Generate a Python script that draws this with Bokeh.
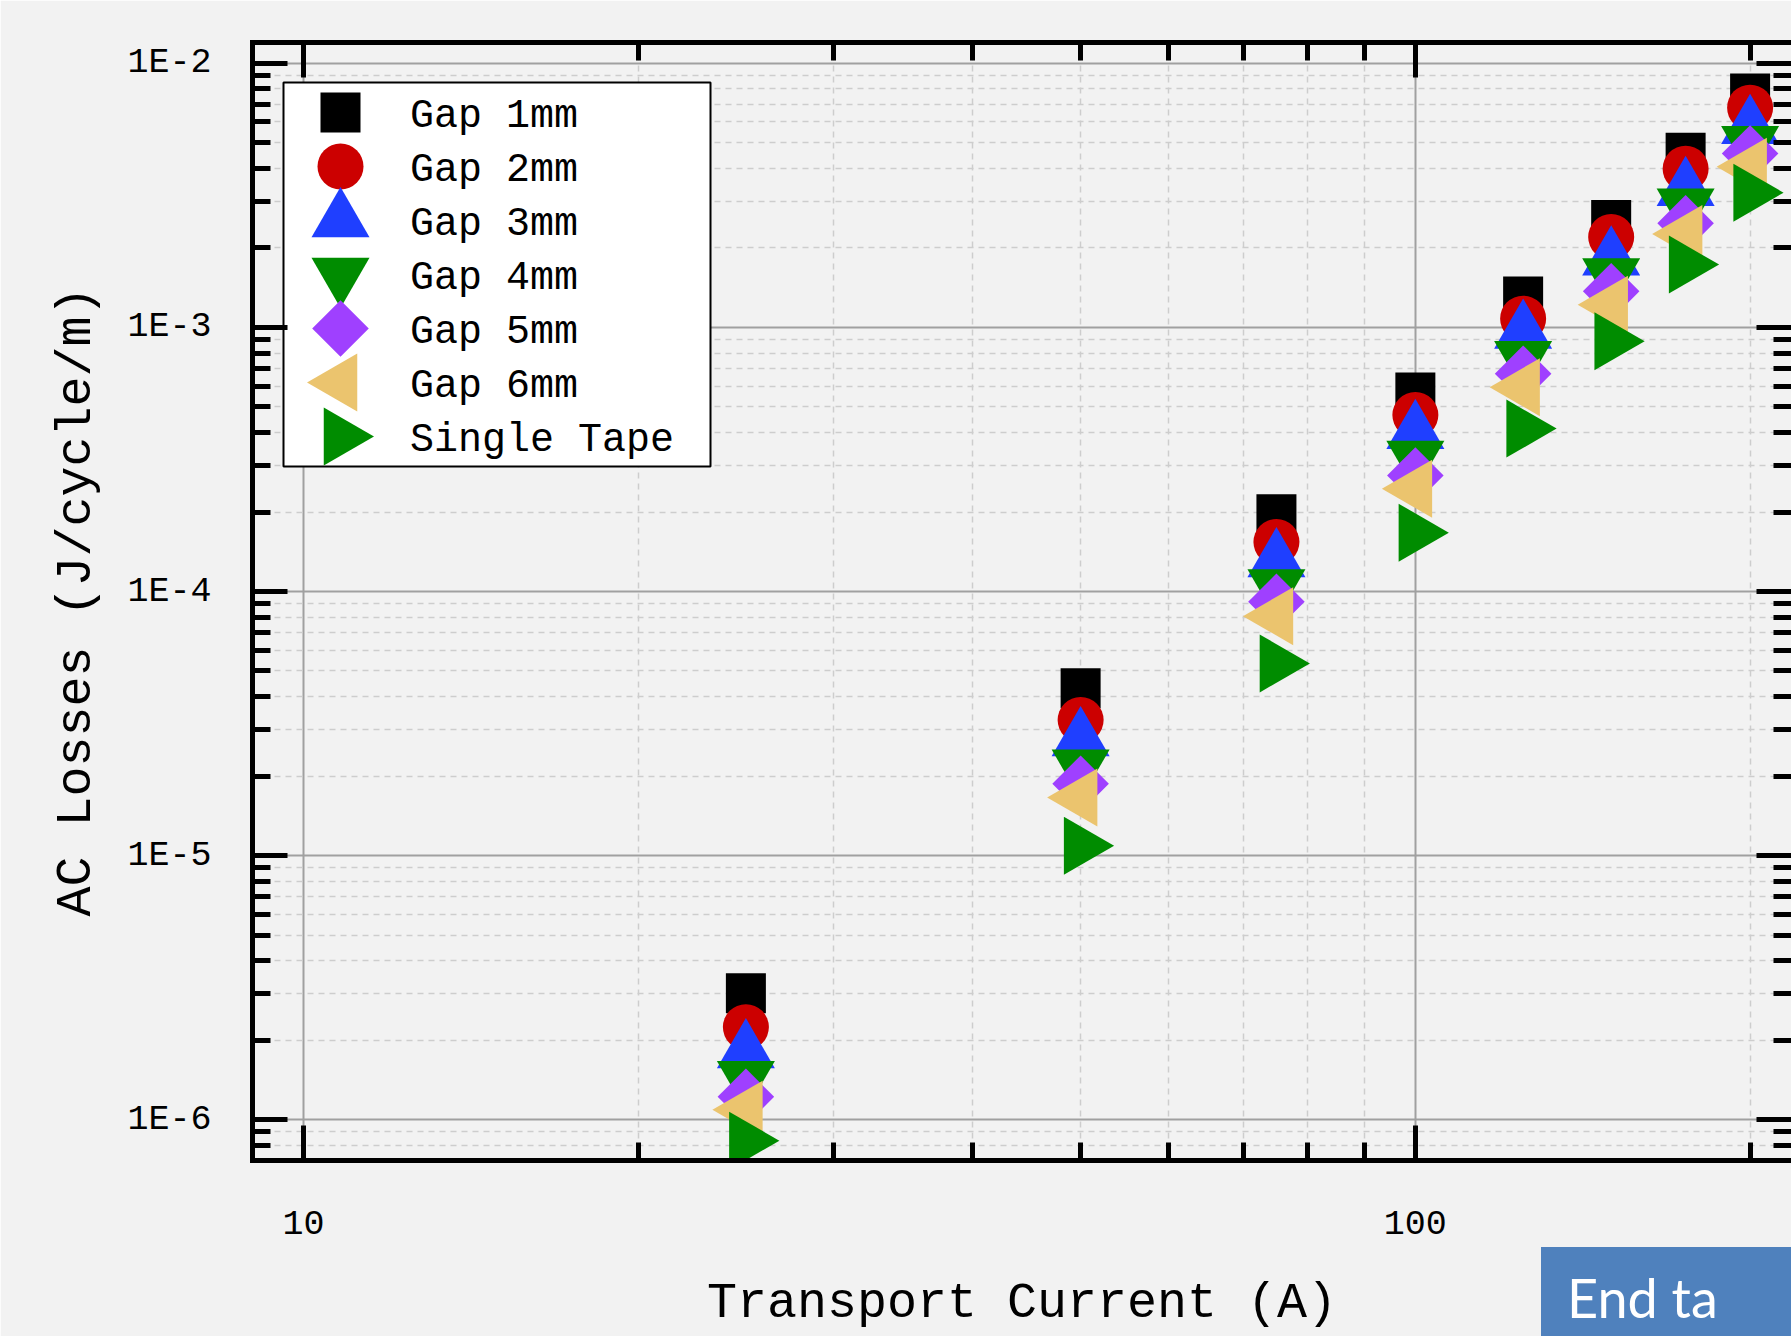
import numpy as np
from bokeh.plotting import figure
from bokeh.layouts import column
from bokeh.models import (ColumnDataSource, LogAxis, FixedTicker, CustomJSTickFormatter,
                          Legend, LegendItem, Div)
from bokeh.embed import file_html
from bokeh.resources import INLINE

# ---------------- data ----------------
current = [25, 50, 75, 100, 125, 150, 175, 200]
gap_1mm = [3.01e-6, 4.30e-5, 1.96e-4, 5.67e-4, 1.31e-3, 2.55e-3, 4.59e-3, 7.70e-3]
gap_2mm = [2.24e-6, 3.26e-5, 1.54e-4, 4.66e-4, 1.08e-3, 2.20e-3, 3.99e-3, 6.80e-3]
gap_3mm = [1.81e-6, 2.75e-5, 1.31e-4, 4.01e-4, 9.61e-4, 1.82e-3, 3.34e-3, 5.73e-3]
gap_4mm = [1.44e-6, 2.18e-5, 1.05e-4, 3.22e-4, 7.68e-4, 1.58e-3, 2.90e-3, 5.01e-3]
gap_5mm = [1.22e-6, 1.87e-5, 9.14e-5, 2.75e-4, 6.68e-4, 1.37e-3, 2.48e-3, 4.56e-3]
gap_6mm = [1.09e-6, 1.66e-5, 8.06e-5, 2.45e-4, 5.94e-4, 1.22e-3, 2.26e-3, 4.06e-3]
single_tape = [8.32e-7, 1.09e-5, 5.34e-5, 1.67e-4, 4.14e-4, 8.87e-4, 1.73e-3, 3.24e-3]

series_names = ["Gap 1mm", "Gap 2mm", "Gap 3mm", "Gap 4mm", "Gap 5mm", "Gap 6mm", "Single Tape"]
series_values = [gap_1mm, gap_2mm, gap_3mm, gap_4mm, gap_5mm, gap_6mm, single_tape]

x_major_ticks = [10, 100]
x_tick_labels = ["10", "100"]
x_minor_ticks = [20, 30, 40, 50, 60, 70, 80, 90, 200]
y_major_ticks = [1e-6, 1e-5, 1e-4, 1e-3, 1e-2]
y_tick_labels = ["1E-6", "1E-5", "1E-4", "1E-3", "1E-2"]
y_minor_ticks = [k * 10.0 ** e for e in range(-7, -1) for k in range(2, 10)
                 if 7.05e-7 < k * 10.0 ** e < 1.2e-2]

callout_text = "End ta"

# ---------------- styles ----------------
markers = ["square", "circle", "triangle", "inverted_triangle", "square", "triangle", "triangle"]
angles = [0, 0, 0, 0, np.pi / 4, np.pi / 2, -np.pi / 2]
sizes = [40, 46, 58, 58, 40, 58, 58]
colors = ["#000000", "#CC0000", "#1F3FFF", "#008C00", "#9F40FF", "#EBC46E", "#008C00"]

BG = "#F2F2F2"
FONT = "Liberation Mono"

W, H = 1791, 1336
ML, MR, MT, MB = 252, 0, 42, 176
FL, FT, FB = ML, MT, H - MB          # frame left / top / bottom in canvas px
FW, FH = W - ML - MR, H - MT - MB
X_RANGE = (9, 217.9)
Y_RANGE = (7e-7, 1.2e-2)

# legend layout (canvas px)
LEG_LEFT, LEG_TOP, LEG_RIGHT, LEG_BOTTOM = 283, 82, 710, 466
LEG_ROW_H, LEG_PAD = 54, 3
LEG_ICON_X = 340
LEG_TEXT_X = 413
LEG_TEXT_DY = 1

lx0, lx1 = np.log10(X_RANGE[0]), np.log10(X_RANGE[1])
ly0, ly1 = np.log10(Y_RANGE[0]), np.log10(Y_RANGE[1])


def px_to_x(px):
    return 10 ** (lx0 + (px - FL) / FW * (lx1 - lx0))


def py_to_y(py):
    return 10 ** (ly1 - (py - FT) / FH * (ly1 - ly0))


p = figure(width=W, height=H, x_axis_type="log", y_axis_type="log",
           x_range=X_RANGE, y_range=Y_RANGE,
           output_backend="svg", toolbar_location=None,
           min_border_left=ML, min_border_right=MR, min_border_top=MT, min_border_bottom=MB,
           background_fill_color=BG, border_fill_color=BG, outline_line_color=None)

xt = FixedTicker(ticks=x_major_ticks, minor_ticks=x_minor_ticks)
yt = FixedTicker(ticks=y_major_ticks, minor_ticks=y_minor_ticks)

label_code = """
let best = '';
for (let i = 0; i < tv.length; i++) {
  if (Math.abs(Math.log10(tv[i]) - Math.log10(tick)) < 1e-6) best = tl[i];
}
return best;
"""
xfmt = CustomJSTickFormatter(args=dict(tv=x_major_ticks, tl=x_tick_labels), code=label_code)
yfmt = CustomJSTickFormatter(args=dict(tv=y_major_ticks, tl=y_tick_labels), code=label_code)
blank = CustomJSTickFormatter(code="return '';")


def style_axis(ax):
    ax.axis_line_width = 5
    ax.axis_line_color = "black"
    ax.axis_line_cap = "square"
    ax.major_tick_in = 35
    ax.major_tick_out = 0
    ax.minor_tick_in = 18
    ax.minor_tick_out = 0
    ax.major_tick_line_width = 5
    ax.minor_tick_line_width = 5
    ax.major_tick_line_color = "black"
    ax.minor_tick_line_color = "black"
    ax.major_label_text_font = FONT
    ax.major_label_text_font_size = "35px"
    ax.major_label_text_color = "black"
    ax.axis_label_text_font = FONT
    ax.axis_label_text_font_size = "50px"
    ax.axis_label_text_font_style = "normal"
    ax.axis_label_text_color = "black"


xb = p.xaxis[0]
xb.ticker = xt
xb.formatter = xfmt
style_axis(xb)
xb.major_label_standoff = 50
xb.axis_label = "Transport Current (A)"
xb.axis_label_standoff = 38

yl = p.yaxis[0]
yl.ticker = yt
yl.formatter = yfmt
style_axis(yl)
yl.major_label_standoff = 41
yl.axis_label = "AC Losses (J/cycle/m)"
yl.axis_label_standoff = 19

xtop = LogAxis(ticker=xt, formatter=blank)
style_axis(xtop)
xtop.major_label_standoff = 0
p.add_layout(xtop, "above")

yr = LogAxis(ticker=yt, formatter=blank)
style_axis(yr)
yr.major_label_standoff = 0
yr.axis_line_color = None
p.add_layout(yr, "right")

p.xgrid.ticker = xt
p.ygrid.ticker = yt
for g in (p.xgrid[0], p.ygrid[0]):
    g.grid_line_color = "#A0A0A0"
    g.grid_line_width = 2
    g.minor_grid_line_color = "#CDCDCD"
    g.minor_grid_line_width = 1.5
    g.minor_grid_line_dash = "6 5"

# ---------------- data glyphs ----------------
for vals, mk, ang, sz, col in zip(series_values, markers, angles, sizes, colors):
    src = ColumnDataSource(dict(x=current, y=vals))
    p.scatter("x", "y", source=src, marker=mk, angle=ang, size=sz,
              fill_color=col, line_color=None)

# ---------------- legend ----------------
# box and (rotatable) symbols are drawn as glyphs; the Legend supplies the labels
n_items = len(series_names)
p.quad(left=[px_to_x(LEG_LEFT)], right=[px_to_x(LEG_RIGHT)],
       top=[py_to_y(LEG_TOP)], bottom=[py_to_y(LEG_BOTTOM)],
       fill_color="white", line_color="black", line_width=2)
icon_src = ColumnDataSource(dict(
    x=[px_to_x(LEG_ICON_X)] * n_items,
    y=[py_to_y(LEG_TOP + LEG_PAD + LEG_ROW_H * (i + 0.5)) for i in range(n_items)],
    marker=markers, angle=angles, size=sizes, color=colors))
p.scatter("x", "y", source=icon_src, marker="marker", angle="angle", size="size",
          fill_color="color", line_color=None)

ghost = p.scatter(x=[], y=[], marker="square", fill_alpha=0, line_alpha=0)
legend = Legend(items=[LegendItem(label=n, renderers=[ghost]) for n in series_names],
                location=(LEG_LEFT - FL, FB - LEG_BOTTOM - LEG_TEXT_DY),
                glyph_width=LEG_TEXT_X - LEG_LEFT - LEG_PAD - 20, glyph_height=LEG_ROW_H,
                label_standoff=20,
                label_width=(LEG_RIGHT - LEG_LEFT) - 2 * LEG_PAD - (LEG_TEXT_X - LEG_LEFT - LEG_PAD),
                padding=LEG_PAD, margin=0, spacing=0,
                border_line_color=None, background_fill_alpha=0,
                label_text_font=FONT, label_text_font_size="40px", label_text_color="black")
p.add_layout(legend)

# ---------------- blue callout (outside the plot frame) ----------------
callout = Div(
    text=('<div style="padding:24px 0 0 26px;font-family:Lato,sans-serif;font-size:54px;'
          'line-height:1;color:white;white-space:nowrap;">' + callout_text + '</div>'),
    width=250, height=89, margin=0,
    styles={"position": "absolute", "left": "1541px", "top": "1247px",
            "background-color": "#4F81BD", "overflow": "hidden"})

layout = column(p, callout, spacing=0)
open("out.html", "w").write(file_html(layout, INLINE))
